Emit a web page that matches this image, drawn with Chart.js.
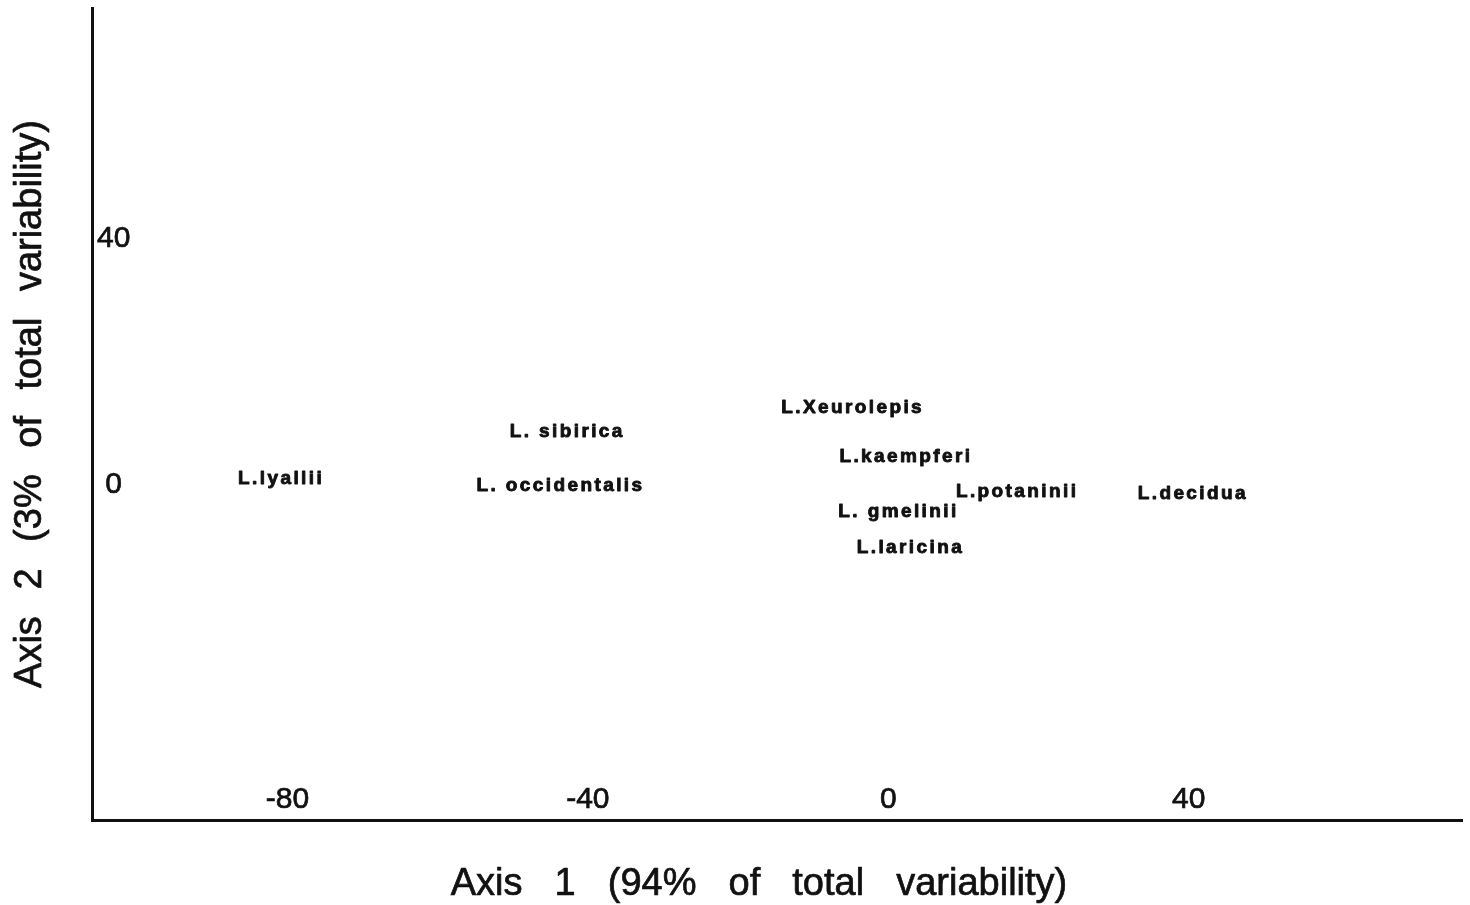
<!DOCTYPE html>
<html>
<head>
<meta charset="utf-8">
<style>
  html, body { margin: 0; padding: 0; background: #ffffff; }
  #c { display: block; }
</style>
<script src="https://cdn.jsdelivr.net/npm/chart.js@4.4.1/dist/chart.umd.min.js"></script>
</head>
<body>
<canvas id="c" width="1470" height="905"></canvas>
<script>
// Ordination scores of the larch taxa on the first two axes
const species = ['L.lyallii', 'L. sibirica', 'L. occidentalis', 'L.Xeurolepis', 'L.kaempferi',
                 'L.potaninii', 'L.decidua', 'L. gmelinii', 'L.laricina'];
const axis1 = [-81.0, -42.9, -43.8, -4.9, 2.2, 17.0, 40.4, 1.2, 2.8];
const axis2 = [0.9, 8.6, -0.2, 12.5, 4.6, -1.1, -1.5, -4.5, -10.3];

const xTicks = [-80, -40, 0, 40];
const yTicks = [0, 40];
const xTitle = 'Axis 1 (94% of total variability)';
const yTitle = 'Axis 2 (3% of total variability)';

const INK = '#111111';
const FAMILY = '"Liberation Sans", Arial, Helvetica, sans-serif';

// Each taxon is plotted as its name, centred on its score
const nameLabels = {
  id: 'nameLabels',
  afterDatasetsDraw(chart) {
    const ctx = chart.ctx;
    const meta = chart.getDatasetMeta(0);
    ctx.save();
    ctx.fillStyle = INK;
    ctx.strokeStyle = INK;
    ctx.lineWidth = 0.9;
    ctx.lineJoin = 'round';
    ctx.font = 'bold 19px ' + FAMILY;
    ctx.letterSpacing = '2.4px';
    ctx.textAlign = 'center';
    ctx.textBaseline = 'middle';
    meta.data.forEach((pt, i) => {
      ctx.fillText(species[i], pt.x + 1.2, pt.y);
      ctx.strokeText(species[i], pt.x + 1.2, pt.y);
    });
    ctx.restore();
  }
};

// Axis titles with the wide word spacing of the original typesetting
const axisTitles = {
  id: 'axisTitles',
  afterDraw(chart) {
    const ctx = chart.ctx;
    const a = chart.chartArea;
    ctx.save();
    ctx.fillStyle = INK;
    ctx.strokeStyle = INK;
    ctx.lineWidth = 0.7;
    ctx.lineJoin = 'round';
    ctx.font = '38px ' + FAMILY;
    ctx.textAlign = 'center';
    ctx.textBaseline = 'alphabetic';
    ctx.wordSpacing = '21.5px';
    const xx = (a.left + a.right) / 2 - 18, xy = a.bottom + 75;
    ctx.fillText(xTitle, xx, xy);
    ctx.strokeText(xTitle, xx, xy);
    ctx.translate(41, (a.top + a.bottom) / 2 - 10);
    ctx.rotate(-Math.PI / 2);
    ctx.wordSpacing = '16px';
    ctx.fillText(yTitle, 0, 0);
    ctx.strokeText(yTitle, 0, 0);
    ctx.restore();
  }
};

new Chart(document.getElementById('c'), {
  type: 'scatter',
  data: {
    datasets: [{
      data: axis1.map((x, i) => ({ x: x, y: axis2[i] })),
      pointRadius: 0,
      pointHoverRadius: 0,
      showLine: false
    }]
  },
  options: {
    responsive: false,
    animation: false,
    events: [],
    layout: { padding: { top: 8, right: 8, left: 0, bottom: 0 } },
    plugins: { legend: { display: false }, tooltip: { enabled: false } },
    scales: {
      x: {
        type: 'linear',
        min: -106.02,
        max: 76.4,
        afterBuildTicks(scale) { scale.ticks = xTicks.map(v => ({ value: v })); },
        afterFit(scale) {
          scale.height = 85;
          scale.paddingLeft = 0; scale.paddingRight = 0;
        },
        grid: { display: false },
        border: { display: true, color: INK, width: 3 },
        ticks: {
          mirror: true,
          padding: 2,
          color: INK,
          textStrokeColor: INK,
          textStrokeWidth: 0.7,
          font: { family: FAMILY, size: 30 }
        }
      },
      y: {
        type: 'linear',
        min: -54.66,
        max: 77.64,
        afterBuildTicks(scale) { scale.ticks = yTicks.map(v => ({ value: v })); },
        afterFit(scale) {
          scale.width = 92;
          scale.paddingTop = 0; scale.paddingBottom = 0;
        },
        grid: { display: false },
        border: { display: true, color: INK, width: 3 },
        ticks: {
          mirror: true,
          crossAlign: 'center',
          padding: 5,
          color: INK,
          textStrokeColor: INK,
          textStrokeWidth: 0.7,
          font: { family: FAMILY, size: 30 }
        }
      }
    }
  },
  plugins: [nameLabels, axisTitles]
});
</script>
</body>
</html>
